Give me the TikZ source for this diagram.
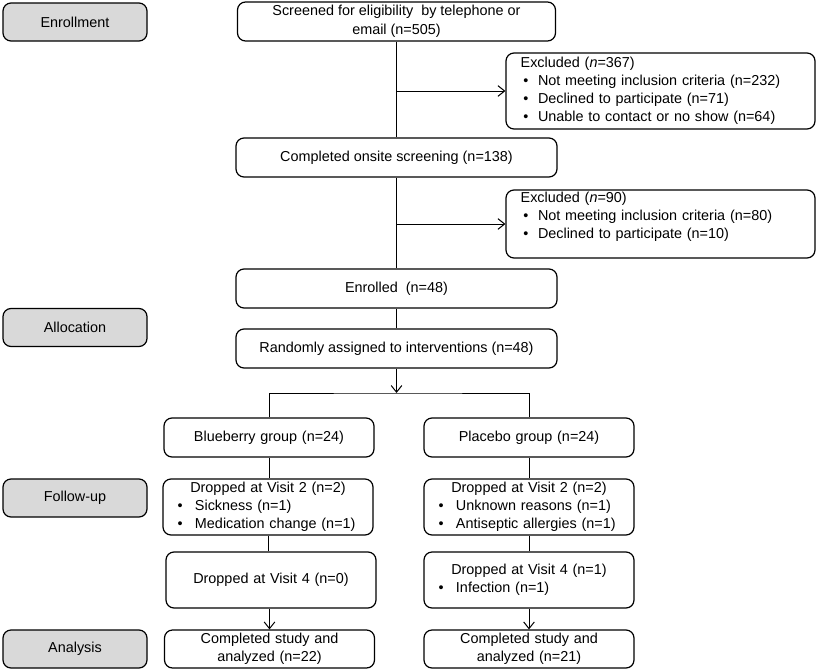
\documentclass[tikz,border=0pt]{standalone}
\usepackage{fontspec}
\setmainfont{Liberation Sans}
\usetikzlibrary{arrows.meta, positioning}
\definecolor{stageGrey}{RGB}{217,217,217}
\newlength{\dropw}
\setlength{\dropw}{157.5pt}
% bullet lines inside the boxes
\newcommand{\exitem}[1]{\hspace{2pt}\makebox[11pt][l]{\textbullet}#1}
\newcommand{\dropitem}[1]{\makebox[\dropw][l]{\hspace{11pt}\makebox[13pt][l]{\textbullet}#1}}

\begin{document}
\begin{tikzpicture}[x=0.75pt, y=-0.75pt,
		font=\fontsize{10.8}{13.5}\selectfont,
		box/.style={draw, line width=0.9pt, rounded corners=6pt, align=center, inner sep=0pt},
		stagebox/.style={box, fill=stageGrey, minimum width=108pt, minimum height=28.5pt},
		mainbox/.style={box, minimum width=240.75pt, minimum height=29.25pt},
		exbox/.style={box, align=left, text width=209.75pt, inner xsep=11pt, minimum height=#1},
		dropbox/.style={box, text width=\dropw, minimum height=#1},
		link/.style={line width=0.75pt},
		arr/.style={link, -{Straight Barb[length=5pt, width=8pt]}}]
	\useasboundingbox (0,0) rectangle (817,671);

	% Stage labels
	\node[stagebox] (enrol) at (75,22) {Enrollment};
	\node[stagebox] (alloc) at (75,327.5) {Allocation};
	\node[stagebox] (follow) at (75,498) {Follow-up};
	\node[stagebox] (analysis) at (75,649) {Analysis};

	% Screening and enrolment
	\node[mainbox, minimum width=238.5pt] (screen) at (396.5,21.5) {Screened for eligibility\ \ by telephone\ or\\[1pt]email\ (n=505)};
	\node[exbox=57pt] (excl1) at (660.5,91) {Excluded\ (\textit{n}=367)\\
		\exitem{Not meeting inclusion criteria (n=232)}\\
		\exitem{Declined to participate (n=71)}\\
		\exitem{Unable to contact or no show (n=64)}};
	\node[mainbox] (onsite) at (396.5,157.5) {Completed\ onsite screening (n=138)};
	\node[exbox=51pt] (excl2) at (660.5,224) {Excluded\ (\textit{n}=90)\\
		\exitem{Not meeting inclusion criteria (n=80)}\\
		\exitem{Declined to participate (n=10)}\\ \mbox{}};
	\node[mainbox] (enrolled) at (396.5,288.5) {Enrolled\ \ (n=48)};
	\node[mainbox] (random) at (396.5,348.5) {Randomly\ assigned to interventions\ (n=48)};
	\coordinate (split) at (396.5,393);

	% Groups
	\node[dropbox=29.25pt] (blue) at (269,437.5) {Blueberry group (n=24)};
	\node[dropbox=29.25pt] (plac) at (529,437.5) {Placebo group (n=24)};
	\node[dropbox=42pt] (bluev2) at (268,507) {Dropped at Visit 2 (n=2)\\
		\dropitem{Sickness (n=1)}\\
		\dropitem{Medication change (n=1)}};
	\node[dropbox=42pt] (placv2) at (529,507) {Dropped at Visit 2 (n=2)\\
		\dropitem{Unknown\ reasons (n=1)}\\
		\dropitem{Antiseptic allergies (n=1)}};
	\node[dropbox=42pt] (bluev4) at (271,580) {Dropped at Visit 4 (n=0)};
	\node[dropbox=42pt] (placv4) at (529,580) {Dropped at Visit 4 (n=1)\\
		\dropitem{Infection (n=1)}};
	\node[dropbox=28.5pt] (bluedone) at (269.5,649) {Completed study and\\analyzed\ (n=22)};
	\node[dropbox=28.5pt] (placdone) at (529,649) {Completed study and\\analyzed\ (n=21)};

	% Connectors
	\draw[link] (screen.south) -- (onsite.north);
	\draw[arr] (screen.south |- excl1.west) -- (excl1.west);
	\draw[link] (onsite.south) -- (enrolled.north);
	\draw[arr] (onsite.south |- excl2.west) -- (excl2.west);
	\draw[link] (enrolled.south) -- (random.north);
	\draw[arr] (random.south) -- (split);
	\draw[link] (blue.north) |- (split) -| (plac.north);
	\draw[link] (blue.south) -- (blue.south |- bluev2.north);
	\draw[link] (plac.south) -- (placv2.north);
	\draw[link] (bluev2.south) -- (bluev2.south |- bluev4.north);
	\draw[link] (placv2.south) -- (placv4.north);
	\draw[arr] (bluev4.south -| bluedone.north) -- (bluedone.north);
	\draw[arr] (placv4.south) -- (placdone.north);
\end{tikzpicture}
\end{document}
